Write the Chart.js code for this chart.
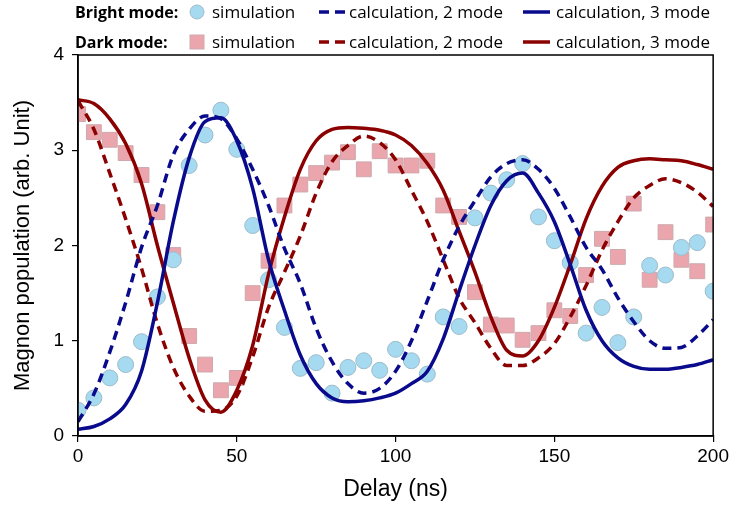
<!DOCTYPE html>
<html>
<head>
<meta charset="utf-8">
<script src="https://cdn.jsdelivr.net/npm/chart.js@4.4.1/dist/chart.umd.min.js"></script>
<style>
  html, body { margin: 0; padding: 0; background: #fff; }
  #wrap { position: relative; width: 732px; height: 506px; }
  #grafica { position: absolute; left: 0; top: 0; }
  .leg { position: absolute; font-family: 'Open Sans', sans-serif; font-size: 17px; color: #000; white-space: nowrap; line-height: 22px; }
  .leg b { font-weight: 700; font-size: 16px; }
  .mk { position: absolute; }
</style>
</head>
<body>
<div id="wrap">
  <canvas id="grafica" width="732" height="506"></canvas>

  <!-- leyenda en dos filas -->
  <div class="leg" style="left:75px;top:1px"><b>Bright mode:</b></div>
  <svg class="mk" style="left:189px;top:4px" width="16" height="16"><circle cx="8" cy="8" r="7" fill="#A6DAF0" stroke="#9DBBC9" stroke-width="1"/></svg>
  <div class="leg" style="left:212px;top:1px">simulation</div>
  <svg class="mk" style="left:319px;top:4px" width="28" height="16"><line x1="0" y1="8" x2="27" y2="8" stroke="#0A0A8C" stroke-width="3.5" stroke-dasharray="10,6"/></svg>
  <div class="leg" style="left:349px;top:1px">calculation, 2 mode</div>
  <svg class="mk" style="left:523px;top:4px" width="28" height="16"><line x1="0" y1="8" x2="27" y2="8" stroke="#0A0A8C" stroke-width="3.5"/></svg>
  <div class="leg" style="left:556px;top:1px">calculation, 3 mode</div>

  <div class="leg" style="left:75px;top:31px"><b>Dark mode:</b></div>
  <svg class="mk" style="left:189px;top:34px" width="16" height="16"><rect x="1" y="1" width="14" height="14" fill="#EBA5AD" stroke="#CDA9AD" stroke-width="1"/></svg>
  <div class="leg" style="left:212px;top:31px">simulation</div>
  <svg class="mk" style="left:319px;top:34px" width="28" height="16"><line x1="0" y1="8" x2="27" y2="8" stroke="#8B0000" stroke-width="3.5" stroke-dasharray="10,6"/></svg>
  <div class="leg" style="left:349px;top:31px">calculation, 2 mode</div>
  <svg class="mk" style="left:523px;top:34px" width="28" height="16"><line x1="0" y1="8" x2="27" y2="8" stroke="#8B0000" stroke-width="3.5"/></svg>
  <div class="leg" style="left:556px;top:31px">calculation, 3 mode</div>
</div>

<script>
// --- Datos ---
const simNs = [0, 5, 10, 15, 20, 25, 30, 35, 40, 45, 50, 55, 60, 65, 70, 75, 80, 85, 90, 95, 100,
  105, 110, 115, 120, 125, 130, 135, 140, 145, 150, 155, 160, 165, 170, 175, 180, 185, 190, 195, 200];

const brightSim = [0.27, 0.40, 0.61, 0.75, 0.99, 1.46, 1.85, 2.84, 3.16, 3.42, 3.01, 2.21, 1.64, 1.14, 0.71, 0.77, 0.45, 0.72, 0.79, 0.69, 0.91,
  0.79, 0.65, 1.25, 1.15, 2.29, 2.55, 2.69, 2.86, 2.30, 2.05, 1.82, 1.08, 1.35, 0.98, 1.25, 1.79, 1.69, 1.98, 2.03, 1.52];

const darkSim = [3.38, 3.19, 3.11, 2.97, 2.74, 2.35, 1.90, 1.05, 0.75, 0.48, 0.61, 1.50, 1.84, 2.42, 2.64, 2.76, 2.87, 2.98, 2.80, 2.99, 2.84,
  2.84, 2.89, 2.42, 2.30, 1.51, 1.17, 1.16, 1.01, 1.08, 1.32, 1.26, 1.69, 2.07, 1.88, 2.44, 1.64, 2.14, 1.85, 1.73, 2.22];

const curveNs = [0, 5, 10, 15, 20, 25, 30, 35, 40, 45, 50, 55, 60, 65, 70, 75, 80, 85, 90, 95, 100,
  105, 110, 115, 120, 125, 130, 135, 140, 145, 150, 155, 160, 165, 170, 175, 180, 185, 190, 195, 200];

const bright2 = [0.15, 0.44, 0.88, 1.40, 1.98, 2.42, 2.95, 3.22, 3.36, 3.33, 3.12, 2.80, 2.42, 1.97, 1.60, 1.13, 0.78, 0.55, 0.45, 0.50, 0.68,
  1.00, 1.42, 1.85, 2.20, 2.47, 2.72, 2.86, 2.90, 2.80, 2.60, 2.30, 1.98, 1.75, 1.45, 1.20, 1.00, 0.92, 0.93, 1.05, 1.22];

const bright3 = [0.07, 0.10, 0.18, 0.33, 0.68, 1.40, 2.25, 2.92, 3.30, 3.34, 3.10, 2.60, 1.85, 1.32, 0.85, 0.55, 0.40, 0.36, 0.37, 0.40, 0.45,
  0.55, 0.68, 1.02, 1.52, 2.00, 2.42, 2.68, 2.76, 2.55, 2.25, 1.80, 1.32, 1.00, 0.82, 0.73, 0.70, 0.70, 0.72, 0.75, 0.80];

const dark2 = [3.52, 3.22, 2.76, 2.28, 1.76, 1.18, 0.72, 0.42, 0.26, 0.27, 0.42, 0.83, 1.35, 1.72, 2.10, 2.55, 2.88, 3.05, 3.15, 3.08, 2.90,
  2.58, 2.25, 1.85, 1.45, 1.19, 0.92, 0.74, 0.74, 0.82, 0.97, 1.25, 1.58, 1.95, 2.25, 2.50, 2.63, 2.70, 2.66, 2.56, 2.41];

const dark3 = [3.53, 3.49, 3.33, 3.07, 2.65, 2.00, 1.40, 0.82, 0.38, 0.25, 0.48, 0.95, 1.70, 2.30, 2.80, 3.10, 3.22, 3.24, 3.23, 3.21, 3.16,
  3.05, 2.86, 2.58, 2.15, 1.72, 1.25, 0.90, 0.84, 1.00, 1.35, 1.80, 2.28, 2.62, 2.82, 2.89, 2.91, 2.90, 2.89, 2.85, 2.80];

const xTicks = [0, 50, 100, 150, 200];
const yTicks = [0, 1, 2, 3, 4];

const azul = '#0A0A8C';
const rojo = '#8B0000';

const puntos = (xs, ys) => xs.map((x, i) => ({ x: x, y: ys[i] }));

// marco completo alrededor del área de la gráfica
const marco = {
  id: 'marco',
  afterDraw(chart) {
    const { ctx, chartArea: a } = chart;
    ctx.save();
    ctx.strokeStyle = '#000';
    ctx.lineWidth = 1.5;
    ctx.strokeRect(a.left, a.top, a.right - a.left, a.bottom - a.top);
    ctx.restore();
  }
};

const fuenteTicks = { family: "'Liberation Sans', Arial, sans-serif", size: 19 };
const fuenteTitulo = { family: "'Liberation Sans', Arial, sans-serif", size: 22 };

const curva = (label, data, color, dash) => ({
  type: 'line',
  label: label,
  data: puntos(curveNs, data),
  borderColor: color,
  borderWidth: 3.5,
  borderDash: dash,
  pointRadius: 0,
  cubicInterpolationMode: 'monotone',
  fill: false,
  order: 0
});

new Chart(document.getElementById('grafica'), {
  type: 'scatter',
  data: {
    datasets: [
      curva('Bright calculation, 2 mode', bright2, azul, [9, 6]),
      curva('Bright calculation, 3 mode', bright3, azul, []),
      curva('Dark calculation, 2 mode', dark2, rojo, [9, 6]),
      curva('Dark calculation, 3 mode', dark3, rojo, []),
      {
        label: 'Bright simulation',
        data: puntos(simNs, brightSim),
        pointStyle: 'circle',
        pointRadius: 8,
        backgroundColor: '#A6DAF0',
        borderColor: '#9DBBC9',
        borderWidth: 1,
        order: 1
      },
      {
        label: 'Dark simulation',
        data: puntos(simNs, darkSim),
        pointStyle: 'rect',
        pointRadius: 10.5,
        backgroundColor: '#EBA5AD',
        borderColor: '#CDA9AD',
        borderWidth: 1,
        order: 2
      }
    ]
  },
  options: {
    responsive: false,
    animation: false,
    layout: { padding: { top: 55, right: 17, left: 0, bottom: 0 } },
    plugins: {
      legend: { display: false },
      tooltip: { enabled: false }
    },
    scales: {
      x: {
        type: 'linear',
        min: 0,
        max: 200,
        afterBuildTicks: (s) => { s.ticks = xTicks.map((v) => ({ value: v })); },
        afterFit: (s) => { s.height = 70; },
        ticks: { color: '#000', font: fuenteTicks, padding: 3 },
        grid: { drawOnChartArea: false, drawTicks: true, tickLength: 6, color: '#000', lineWidth: 1.2 },
        border: { color: '#000', width: 1.5 },
        title: { display: true, text: 'Delay (ns)', color: '#000', font: { family: fuenteTitulo.family, size: 23 }, padding: { top: 0, bottom: 3 } }
      },
      y: {
        min: 0,
        max: 4,
        afterBuildTicks: (s) => { s.ticks = yTicks.map((v) => ({ value: v })); },
        afterFit: (s) => { s.width = 78; },
        ticks: { color: '#000', font: fuenteTicks, padding: 8 },
        grid: { drawOnChartArea: false, drawTicks: true, tickLength: 6, color: '#000', lineWidth: 1.2 },
        border: { color: '#000', width: 1.5 },
        title: { display: true, text: 'Magnon population (arb. Unit)', color: '#000', font: fuenteTitulo, padding: { top: 10, bottom: 0 } }
      }
    }
  },
  plugins: [marco]
});
</script>
</body>
</html>
